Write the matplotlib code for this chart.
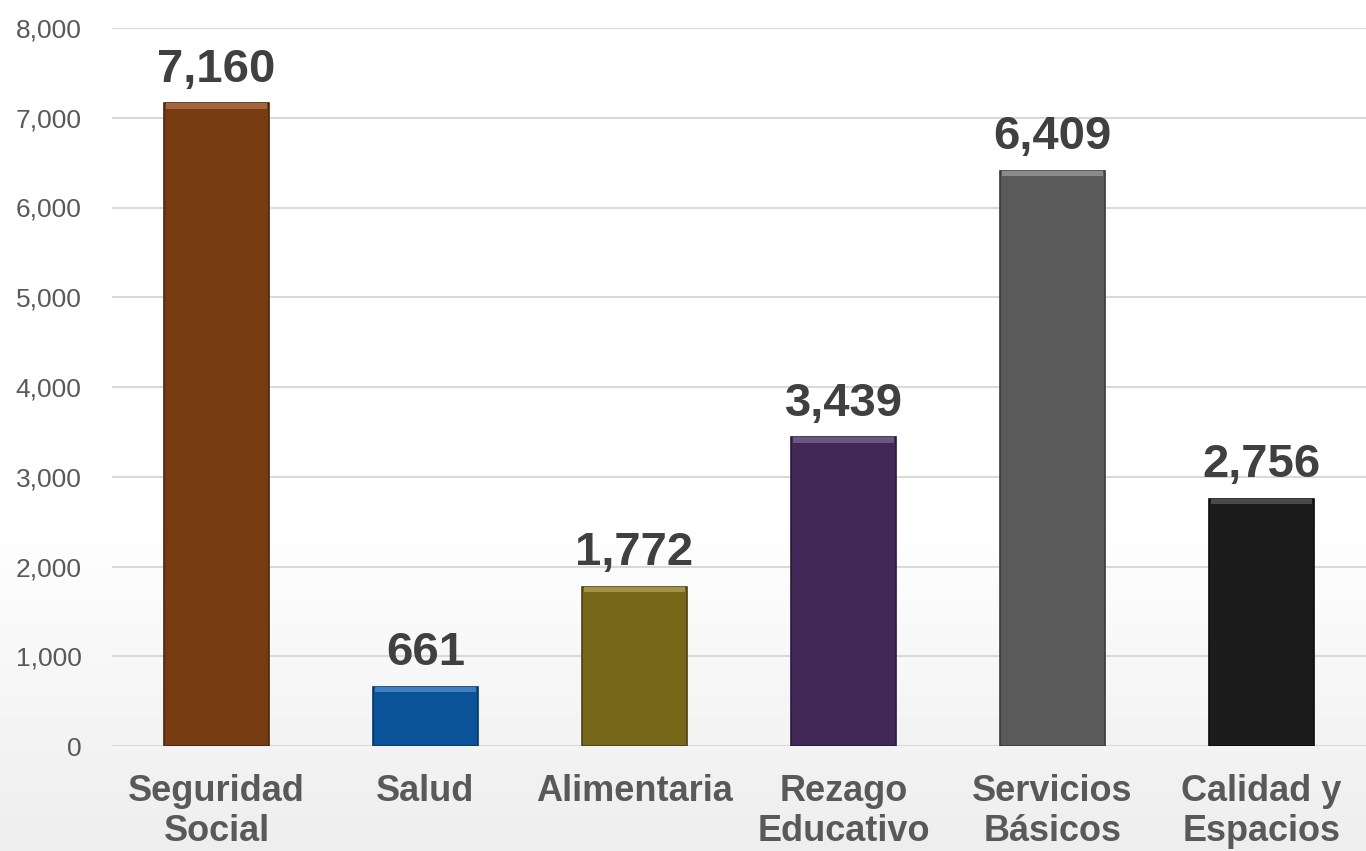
import numpy as np
import matplotlib.pyplot as plt

# Datos
categorias = ['Seguridad\nSocial', 'Salud', 'Alimentaria', 'Rezago\nEducativo',
              'Servicios\nBásicos', 'Calidad y\nEspacios']
valores = [7160, 661, 1772, 3439, 6409, 2756]
colores = ['#783a10', '#0b5399', '#766818', '#422857', '#5a5a5a', '#1c1c1c']
bordes = ['#4e250a', '#063766', '#4d430f', '#2a1938', '#3a3a3a', '#0a0a0a']
brillos = ['#a5653a', '#3f7fc0', '#a09348', '#6c5580', '#8a8a8a', '#4a4a4a']

plt.rcParams['font.family'] = ['Liberation Sans', 'DejaVu Sans']

fig = plt.figure(figsize=(13.66, 8.51), dpi=100)

# Fondo degradado suave
bg = fig.add_axes([0, 0, 1, 1], zorder=-10)
grad = np.linspace(0, 1, 256).reshape(-1, 1)
grad = np.clip((grad - 0.6) / 0.4, 0, 1)
bg.imshow(1 - 0.07 * grad, cmap='gray', vmin=0, vmax=1, aspect='auto', extent=[0, 1, 0, 1], origin='upper')
bg.axis('off')

ax = fig.add_axes([112 / 1366, 105 / 851, 1 - 112 / 1366, (746 - 28) / 851])
ax.patch.set_alpha(0)

x = np.arange(len(categorias))
ancho = 0.5
ax.bar(x, valores, width=ancho, color=colores, edgecolor=bordes, linewidth=1.2, zorder=3)
# brillo superior (bisel)
ax.bar(x, [60] * len(x), bottom=[v - 60 for v in valores], width=ancho * 0.96,
       color=brillos, linewidth=0, zorder=4)

for xi, v in zip(x, valores):
    ax.text(xi, v + 130, f'{v:,}', ha='center', va='bottom', fontsize=34,
            fontweight='bold', color='#404040')

ax.set_ylim(0, 8000)
ax.set_xlim(-0.5, 5.5)
ax.set_yticks(range(0, 8001, 1000))
ax.set_yticklabels([f'{t:,}' for t in range(0, 8001, 1000)], fontsize=19, color='#595959')
ax.set_xticks(x)
ax.set_xticklabels(categorias, fontsize=26, fontweight='bold', color='#595959', linespacing=1.2)
ax.tick_params(axis='both', length=0)
ax.tick_params(axis='y', pad=22)
ax.tick_params(axis='x', pad=20)
ax.grid(axis='y', color='#d9d9d9', linewidth=1.5, zorder=0)
for s in ax.spines.values():
    s.set_visible(False)

fig.savefig('out.png', dpi=100)
